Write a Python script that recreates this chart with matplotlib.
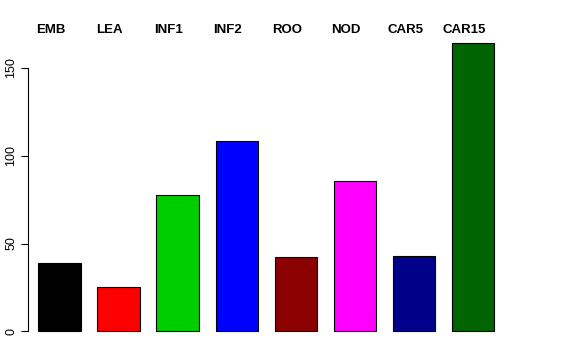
import matplotlib
matplotlib.use("Agg")
import matplotlib.pyplot as plt
import numpy as np

plt.rcParams['font.family'] = ['Liberation Sans', 'DejaVu Sans']

names = ["EMB", "LEA", "INF1", "INF2", "ROO", "NOD", "CAR5", "CAR15"]
values = [38.8, 25.1, 77.6, 108.4, 42.2, 85.6, 42.8, 164.3]
colors = ["#000000", "#FF0000", "#00CD00", "#0000FF", "#8B0000", "#FF00FF", "#00008B", "#006400"]
yticks = [0, 50, 100, 150]

fig = plt.figure(figsize=(5.76, 3.6), dpi=100)
# plot region roughly as R barplot leaves it
ax = fig.add_axes([28.3 / 576, 17 / 360, 533.5 / 576, 312 / 360])

idx = np.arange(len(names))
centers = 0.9 + 1.4 * idx   # width 1, space 0.4
ax.bar(centers, values, width=1.0, color=colors, edgecolor="black", linewidth=0.8)

ax.set_xlim(0.1635, 12.8)
ax.set_ylim(-6.57, 170.9)

for s in ["top", "right", "bottom"]:
    ax.spines[s].set_visible(False)
ax.spines["left"].set_bounds(0, 150)
ax.spines["left"].set_linewidth(0.8)
ax.set_xticks([])
ax.set_yticks(yticks)
ax.set_yticklabels([str(t) for t in yticks], rotation=90, va="center", fontsize=9)
ax.tick_params(axis="y", length=5.4, width=0.8, pad=2.5)

# group names across the top, a bit left of each bar
for c, n in zip(centers, names):
    ax.text(c - 0.21, 171.5, n, ha="center", va="center",
            fontsize=9.5, fontweight="bold", clip_on=False)

fig.savefig("out.png", dpi=100)
